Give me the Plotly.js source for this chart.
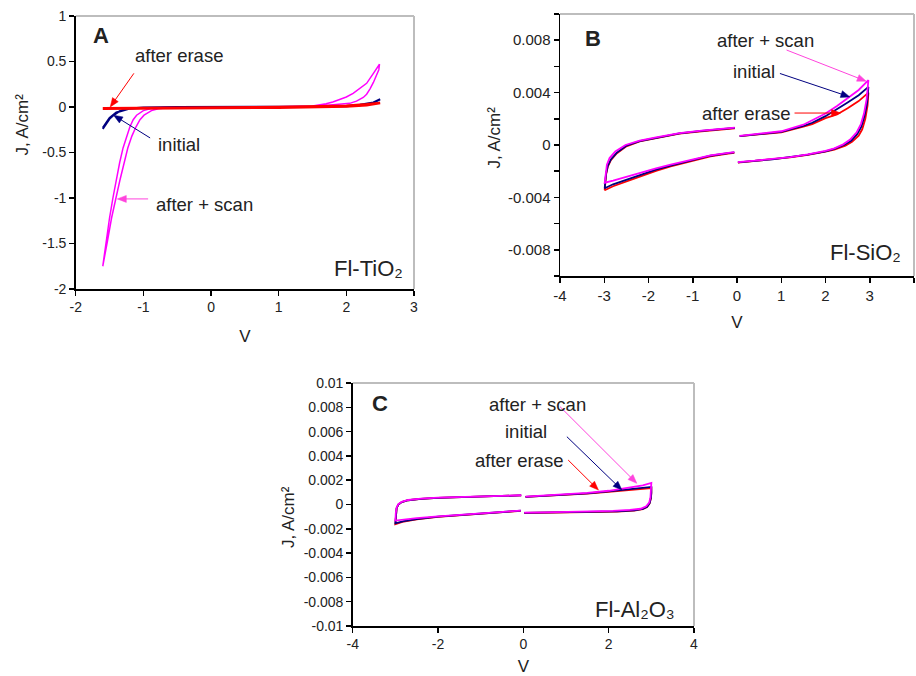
<!DOCTYPE html>
<html>
<head>
<meta charset="utf-8">
<script src="https://cdn.plot.ly/plotly-3.0.1.min.js"></script>
<style>html,body{margin:0;padding:0;background:#fff;}#chart{width:916px;height:676px;}</style>
</head>
<body>
<div id="chart"></div>
<script>
// ---------- Panel A : Fl-TiO2 ----------
const A_scan_V = [-1.60,-1.55,-1.50,-1.45,-1.40,-1.35,-1.30,-1.25,-1.20,-1.15,-1.10,-1.00,-0.90,-0.80,-0.70,-0.40,0.00,0.50,1.00,1.50,1.60,1.70,1.80,1.90,2.00,2.10,2.20,2.30,2.40,2.45,2.49,2.48,2.45,2.40,2.35,2.30,2.25,2.15,2.05,1.90,1.80,1.60,1.20,0.60,0.00,-0.50,-0.68,-0.78,-0.88,-0.99,-1.05,-1.11,-1.17,-1.23,-1.285,-1.345,-1.405,-1.47,-1.53,-1.60];
const A_scan_J = [-1.75,-1.47,-1.22,-1.00,-0.80,-0.61,-0.45,-0.32,-0.22,-0.14,-0.09,-0.04,-0.02,-0.01,-0.005,0.0,0.0,0.0,0.002,0.01,0.02,0.035,0.055,0.08,0.11,0.15,0.20,0.26,0.37,0.42,0.47,0.41,0.35,0.27,0.20,0.14,0.105,0.065,0.04,0.03,0.025,0.012,0.005,0.002,0.0,-0.005,-0.01,-0.02,-0.04,-0.09,-0.14,-0.22,-0.32,-0.45,-0.61,-0.80,-1.00,-1.22,-1.47,-1.75];
const A_init_V = [-1.60,-1.55,-1.50,-1.45,-1.40,-1.35,-1.30,-1.20,-1.10,-1.00,-0.50,0.00,0.50,1.00,1.50,2.00,2.20,2.40,2.50,2.40,2.20,2.00,1.00,0.00,-1.00,-1.20,-1.40,-1.50,-1.60];
const A_init_J = [-0.24,-0.18,-0.13,-0.095,-0.065,-0.045,-0.03,-0.015,-0.01,-0.005,0,0,0,0,0.003,0.012,0.025,0.05,0.085,0.045,0.02,0.008,0,-0.002,-0.008,-0.018,-0.06,-0.12,-0.23];
const A_erase_V = [-1.60,-1.00,0.00,1.00,1.50,2.00,2.30,2.50,2.30,2.00,1.00,0.00,-1.00,-1.60];
const A_erase_J = [-0.02,-0.015,-0.012,-0.008,-0.005,0.005,0.02,0.045,0.03,0.015,0.0,-0.005,-0.01,-0.015];
const A_xticks = [-2,-1,0,1,2,3];
const A_xlabels = ['-2','-1','0','1','2','3'];
const A_yticks = [1,0.5,0,-0.5,-1,-1.5,-2];
const A_ylabels = ['1','0.5','0','-0.5','-1','-1.5','-2'];

// ---------- Panel B : Fl-SiO2 ----------
const B_init_V = [0.06,0.5,1.0,1.5,1.7,2.0,2.26,2.5,2.75,2.97, 2.94,2.88,2.81,2.72,2.58,2.42,2.2,2.0,1.6,1.2,0.8,0.4,0.02, null, -0.06,-0.2,-0.6,-1.08,-1.5,-1.83,-2.2,-2.58,-2.8,-2.99, -2.96,-2.92,-2.85,-2.72,-2.5,-2.2,-1.83,-1.3,-0.8,-0.3,-0.05];
const B_init_J = [0.68e-3,0.82e-3,1.0e-3,1.45e-3,1.7e-3,2.2e-3,2.72e-3,3.25e-3,3.8e-3,4.44e-3, 3.2e-3,2.2e-3,1.4e-3,0.85e-3,0.32e-3,0.0,-0.3e-3,-0.48e-3,-0.74e-3,-0.93e-3,-1.09e-3,-1.21e-3,-1.32e-3, null, -0.57e-3,-0.62e-3,-0.82e-3,-1.2e-3,-1.57e-3,-1.88e-3,-2.3e-3,-2.75e-3,-3.0e-3,-3.3e-3, -2.2e-3,-1.6e-3,-1.1e-3,-0.6e-3,-0.05e-3,0.3e-3,0.55e-3,0.88e-3,1.07e-3,1.22e-3,1.3e-3];
const B_erase_V = [0.06,0.5,1.0,1.5,1.7,2.0,2.26,2.5,2.75,2.97, 2.95,2.9,2.83,2.75,2.6,2.45,2.2,2.0,1.6,1.2,0.8,0.4,0.02, null, -0.06,-0.2,-0.6,-1.08,-1.5,-1.83,-2.2,-2.58,-2.8,-2.99, -2.96,-2.92,-2.85,-2.72,-2.5,-2.2,-1.83,-1.3,-0.8,-0.3,-0.05];
const B_erase_J = [0.67e-3,0.8e-3,0.97e-3,1.4e-3,1.6e-3,2.05e-3,2.33e-3,2.8e-3,3.35e-3,4.0e-3, 3.0e-3,2.0e-3,1.2e-3,0.72e-3,0.25e-3,-0.05e-3,-0.35e-3,-0.5e-3,-0.76e-3,-0.95e-3,-1.1e-3,-1.22e-3,-1.34e-3, null, -0.6e-3,-0.65e-3,-0.86e-3,-1.25e-3,-1.63e-3,-1.97e-3,-2.42e-3,-2.9e-3,-3.15e-3,-3.45e-3, -2.3e-3,-1.65e-3,-1.15e-3,-0.65e-3,-0.1e-3,0.27e-3,0.53e-3,0.86e-3,1.05e-3,1.2e-3,1.28e-3];
const B_scan_V = [0.06,0.5,1.0,1.5,1.7,2.0,2.26,2.5,2.75,2.97, 2.93,2.87,2.8,2.7,2.55,2.4,2.2,2.0,1.6,1.2,0.8,0.4,0.02, null, -0.06,-0.2,-0.6,-1.08,-1.5,-1.83,-2.2,-2.58,-2.8,-2.99, -2.97,-2.94,-2.88,-2.75,-2.52,-2.2,-1.83,-1.3,-0.8,-0.3,-0.05];
const B_scan_J = [0.7e-3,0.85e-3,1.05e-3,1.55e-3,1.87e-3,2.4e-3,2.97e-3,3.6e-3,4.2e-3,4.95e-3, 3.5e-3,2.4e-3,1.6e-3,0.95e-3,0.4e-3,0.05e-3,-0.25e-3,-0.45e-3,-0.72e-3,-0.92e-3,-1.08e-3,-1.2e-3,-1.3e-3, null, -0.55e-3,-0.6e-3,-0.8e-3,-1.15e-3,-1.5e-3,-1.78e-3,-2.15e-3,-2.5e-3,-2.72e-3,-2.88e-3, -2.1e-3,-1.5e-3,-1.0e-3,-0.5e-3,0.0,0.33e-3,0.58e-3,0.9e-3,1.09e-3,1.24e-3,1.32e-3];
const B_xticks = [-4,-3,-2,-1,0,1,2,3,4];
const B_xlabels = ['-4','-3','-2','-1','0','1','2','3','4'];
const B_yticks = [0.008,0.004,0,-0.004,-0.008];
const B_ylabels = ['0.008','0.004','0','-0.004','-0.008'];
const B_yminor = [0.01,0.006,0.002,-0.002,-0.006,-0.01];

// ---------- Panel C : Fl-Al2O3 ----------
const C_init_V = [0.05,0.5,1.0,1.5,2.0,2.5,2.8,3.0, 3.0,2.99,2.96,2.9,2.8,2.6,2.2,1.6,1.0,0.5,0.02, null, -0.06,-0.5,-1.0,-1.5,-2.0,-2.5,-2.8,-3.0, -2.99,-2.97,-2.93,-2.85,-2.7,-2.4,-2.0,-1.5,-1.0,-0.5,-0.05];
const C_init_J = [0.62e-3,0.71e-3,0.81e-3,0.92e-3,1.08e-3,1.25e-3,1.36e-3,1.45e-3, 1.0e-3,0.55e-3,0.12e-3,-0.18e-3,-0.37e-3,-0.49e-3,-0.57e-3,-0.62e-3,-0.65e-3,-0.67e-3,-0.69e-3, null, -0.51e-3,-0.61e-3,-0.73e-3,-0.86e-3,-1.0e-3,-1.2e-3,-1.37e-3,-1.55e-3, -0.8e-3,-0.3e-3,0.0,0.2e-3,0.35e-3,0.47e-3,0.55e-3,0.6e-3,0.65e-3,0.7e-3,0.75e-3];
const C_erase_V = [0.05,0.5,1.0,1.5,2.0,2.5,2.8,3.0, 3.0,2.99,2.96,2.9,2.8,2.6,2.2,1.6,1.0,0.5,0.02, null, -0.06,-0.5,-1.0,-1.5,-2.0,-2.5,-2.8,-3.0, -2.99,-2.97,-2.93,-2.85,-2.7,-2.4,-2.0,-1.5,-1.0,-0.5,-0.05];
const C_erase_J = [0.62e-3,0.7e-3,0.8e-3,0.9e-3,1.05e-3,1.2e-3,1.28e-3,1.35e-3, 0.9e-3,0.5e-3,0.1e-3,-0.2e-3,-0.38e-3,-0.5e-3,-0.58e-3,-0.63e-3,-0.66e-3,-0.68e-3,-0.7e-3, null, -0.52e-3,-0.62e-3,-0.74e-3,-0.87e-3,-1.02e-3,-1.22e-3,-1.4e-3,-1.62e-3, -0.8e-3,-0.3e-3,0.0,0.2e-3,0.35e-3,0.47e-3,0.55e-3,0.6e-3,0.65e-3,0.7e-3,0.75e-3];
const C_scan_V = [0.05,0.5,1.0,1.5,2.0,2.5,2.8,3.0, 2.99,2.98,2.95,2.88,2.75,2.5,2.1,1.6,1.0,0.5,0.02, null, -0.06,-0.5,-1.0,-1.5,-2.0,-2.5,-2.8,-3.0, -2.99,-2.97,-2.93,-2.85,-2.7,-2.4,-2.0,-1.5,-1.0,-0.5,-0.05];
const C_scan_J = [0.64e-3,0.72e-3,0.83e-3,0.95e-3,1.13e-3,1.38e-3,1.58e-3,1.78e-3, 1.2e-3,0.6e-3,0.15e-3,-0.15e-3,-0.35e-3,-0.45e-3,-0.53e-3,-0.58e-3,-0.62e-3,-0.65e-3,-0.67e-3, null, -0.5e-3,-0.6e-3,-0.71e-3,-0.83e-3,-0.97e-3,-1.12e-3,-1.22e-3,-1.32e-3, -0.7e-3,-0.25e-3,0.03e-3,0.22e-3,0.37e-3,0.48e-3,0.56e-3,0.61e-3,0.66e-3,0.71e-3,0.76e-3];
const C_xticks = [-4,-2,0,2,4];
const C_xlabels = ['-4','-2','0','2','4'];
const C_yticks = [0.01,0.008,0.006,0.004,0.002,0,-0.002,-0.004,-0.006,-0.008,-0.01];
const C_ylabels = ['0.01','0.008','0.006','0.004','0.002','0','-0.002','-0.004','-0.006','-0.008','-0.01'];

const PINK = '#ff00ff', NAVY = '#000080', RED = '#ff0000';
const PINK_ARROW = '#ff44dd';
const FONT = '"Liberation Sans", Arial, sans-serif';

function tr(x, y, color, w, xa, ya) {
  return {x: x, y: y, type: 'scatter', mode: 'lines', xaxis: xa, yaxis: ya,
          line: {color: color, width: w}, connectgaps: false, hoverinfo: 'skip'};
}

const data = [
  tr(A_scan_V, A_scan_J, PINK, 1.5, 'x', 'y'),
  tr(A_init_V, A_init_J, NAVY, 2, 'x', 'y'),
  tr(A_erase_V, A_erase_J, RED, 2.5, 'x', 'y'),
  tr(B_erase_V, B_erase_J, RED, 1.8, 'x2', 'y2'),
  tr(B_init_V, B_init_J, NAVY, 1.8, 'x2', 'y2'),
  tr(B_scan_V, B_scan_J, PINK, 1.8, 'x2', 'y2'),
  tr(C_erase_V, C_erase_J, RED, 1.8, 'x3', 'y3'),
  tr(C_init_V, C_init_J, NAVY, 1.8, 'x3', 'y3'),
  tr(C_scan_V, C_scan_J, PINK, 1.8, 'x3', 'y3')
];

const W = 916, H = 676;
function xdom(l, r) { return [l / W, r / W]; }
function ydom(t, b) { return [1 - b / H, 1 - t / H]; }

function axis(extra, fs) {
  return Object.assign({
    showline: true, linecolor: '#000', linewidth: 1.5, mirror: false,
    ticks: 'outside', ticklen: 5, tickwidth: 1.5, tickcolor: '#000',
    showgrid: false, zeroline: false, fixedrange: true,
    tickmode: 'array', tickfont: {size: fs, color: '#222'}
  }, extra);
}

const TF = {size: 17, color: '#222', family: FONT};

const layout = {
  width: W, height: H,
  margin: {l: 0, r: 0, t: 0, b: 0},
  paper_bgcolor: '#fff', plot_bgcolor: '#fff',
  showlegend: false,
  font: {family: FONT, color: '#222'},
  xaxis: axis({domain: xdom(75.7, 414), anchor: 'y', range: [-2, 3], tickvals: A_xticks, ticktext: A_xlabels,
               title: {text: 'V', font: TF, standoff: 16}}, 14),
  yaxis: axis({domain: ydom(16, 289), anchor: 'x', range: [-2, 1], tickvals: A_yticks, ticktext: A_ylabels}, 14),
  xaxis2: axis({domain: xdom(560, 914), anchor: 'y2', range: [-4, 4], tickvals: B_xticks, ticktext: B_xlabels,
                title: {text: 'V', font: TF, standoff: 13}}, 15),
  yaxis2: axis({domain: ydom(14, 276), anchor: 'x2', range: [-0.01, 0.01], tickvals: B_yticks, ticktext: B_ylabels,
                minor: {tickmode: 'array', tickvals: B_yminor, ticks: 'outside', ticklen: 5, tickwidth: 1.5, tickcolor: '#000', showgrid: false}}, 15),
  xaxis3: axis({domain: xdom(352.7, 694), anchor: 'y3', range: [-4, 4], tickvals: C_xticks, ticktext: C_xlabels,
                title: {text: 'V', font: TF, standoff: 13}}, 14),
  yaxis3: axis({domain: ydom(383, 626), anchor: 'x3', range: [-0.01, 0.01], tickvals: C_yticks, ticktext: C_ylabels}, 14),
  shapes: [],
  annotations: []
};

// light grey top/right frame lines
[['x', 'y'], ['x2', 'y2'], ['x3', 'y3']].forEach(function (p) {
  const xr = p[0] + ' domain', yr = p[1] + ' domain';
  layout.shapes.push({type: 'line', xref: xr, yref: yr, x0: 0, x1: 1, y0: 1, y1: 1, line: {color: '#bdbdbd', width: 2}, layer: 'below'});
  layout.shapes.push({type: 'line', xref: xr, yref: yr, x0: 1, x1: 1, y0: 0, y1: 1, line: {color: '#bdbdbd', width: 2}, layer: 'below'});
});

function label(xr, yr, x, y, text, size, bold) {
  layout.annotations.push({xref: xr, yref: yr, x: x, y: y, text: bold ? '<b>' + text + '</b>' : text,
    showarrow: false, xanchor: 'center', yanchor: 'middle',
    font: {size: size, color: '#222', family: FONT}});
}

// arrows: a line plus a filled head sized in pixels at the tip
const AXN = {x: 'xaxis', x2: 'xaxis2', x3: 'xaxis3', y: 'yaxis', y2: 'yaxis2', y3: 'yaxis3'};
function arrow(xr, yr, hx, hy, tx, ty, color) {
  const xa = layout[AXN[xr]], ya = layout[AXN[yr]];
  const pxX = (xa.domain[1] - xa.domain[0]) * W / (xa.range[1] - xa.range[0]);
  const pxY = (ya.domain[1] - ya.domain[0]) * H / (ya.range[1] - ya.range[0]);
  const dx = (hx - tx) * pxX, dy = (hy - ty) * pxY;
  const len = Math.sqrt(dx * dx + dy * dy);
  const ux = dx / len, uy = dy / len;
  const L = 9, w = 3.5;
  const bx = -L * ux, by = -L * uy;
  const p1x = bx + w * uy, p1y = by - w * ux;
  const p2x = bx - w * uy, p2y = by + w * ux;
  layout.shapes.push({type: 'line', xref: xr, yref: yr, x0: tx, y0: ty,
    x1: hx - (L * 0.6 * ux) / pxX, y1: hy - (L * 0.6 * uy) / pxY, line: {color: color, width: 1}});
  layout.shapes.push({type: 'path', xref: xr, yref: yr, xsizemode: 'pixel', ysizemode: 'pixel',
    xanchor: hx, yanchor: hy,
    path: 'M0,0 L' + p1x.toFixed(2) + ',' + p1y.toFixed(2) + ' L' + p2x.toFixed(2) + ',' + p2y.toFixed(2) + ' Z',
    fillcolor: color, line: {color: color, width: 0.5}});
}

// y axis titles
function ytitle(cx, cy) {
  layout.annotations.push({xref: 'paper', yref: 'paper', x: cx / W, y: 1 - cy / H, text: 'J, A/cm²',
    textangle: -90, showarrow: false, xanchor: 'center', yanchor: 'middle', font: TF});
}
ytitle(22, 124.5);
ytitle(494, 137.5);
ytitle(288, 517);

const LF = 18.5, NF = 22;
// Panel A labels
label('x', 'y', -1.63, 0.79, 'A', 22, true);
label('x', 'y', 2.33, -1.77, 'Fl-TiO₂', NF, false);
label('x', 'y', -0.48, 0.57, 'after erase', LF, false);
label('x', 'y', -0.47, -0.41, 'initial', LF, false);
label('x', 'y', -0.10, -1.07, 'after + scan', LF, false);
arrow('x', 'y', -1.49, 0.0, -1.14, 0.37, RED);
arrow('x', 'y', -1.44, -0.09, -0.90, -0.34, NAVY);
arrow('x', 'y', -1.385, -1.01, -0.93, -1.01, PINK_ARROW);

// Panel B labels
label('x2', 'y2', -3.25, 0.00815, 'B', 22, true);
label('x2', 'y2', 2.9, -0.00823, 'Fl-SiO₂', NF, false);
label('x2', 'y2', 0.64, 0.0080, 'after + scan', LF, false);
label('x2', 'y2', 0.39, 0.00564, 'initial', LF, false);
label('x2', 'y2', 0.20, 0.00238, 'after erase', LF, false);
arrow('x2', 'y2', 2.92, 0.00487, 1.12, 0.00725, PINK_ARROW);
arrow('x2', 'y2', 2.55, 0.00367, 0.97, 0.00546, NAVY);
arrow('x2', 'y2', 2.34, 0.00244, 1.30, 0.00244, RED);

// Panel C labels
label('x3', 'y3', -3.35, 0.00835, 'C', 22, true);
label('x3', 'y3', 2.62, -0.00868, 'Fl-Al₂O₃', NF, false);
label('x3', 'y3', 0.33, 0.00827, 'after + scan', LF, false);
label('x3', 'y3', 0.07, 0.00599, 'initial', LF, false);
label('x3', 'y3', -0.11, 0.0036, 'after erase', LF, false);
arrow('x3', 'y3', 2.66, 0.00174, 0.86, 0.00805, PINK_ARROW);
arrow('x3', 'y3', 2.31, 0.00119, 1.02, 0.00558, NAVY);
arrow('x3', 'y3', 1.76, 0.00119, 1.05, 0.00366, RED);

Plotly.newPlot('chart', data, layout, {staticPlot: true, displayModeBar: false});
</script>
</body>
</html>
